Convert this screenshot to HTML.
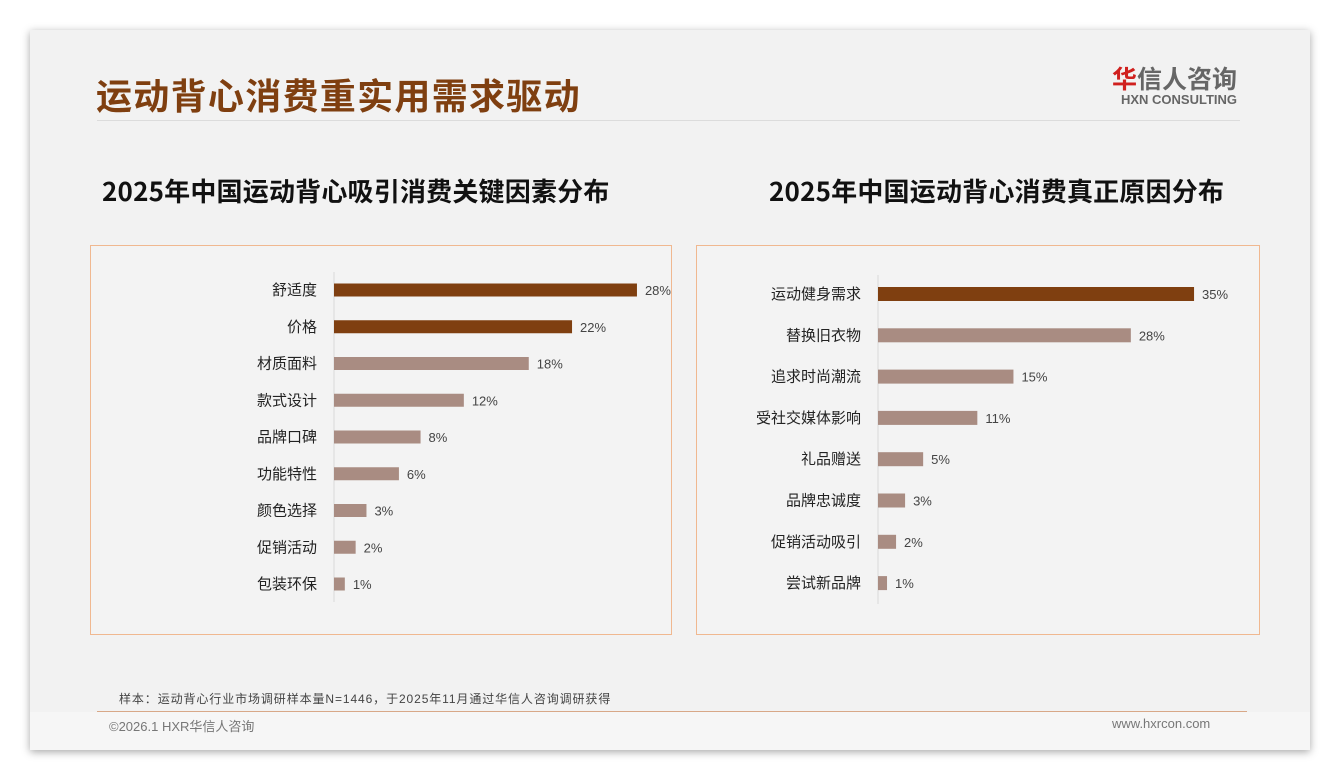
<!DOCTYPE html>
<html><head><meta charset="utf-8">
<style>
*{margin:0;padding:0;box-sizing:border-box}
body{width:1340px;height:780px;background:#fff;font-family:"Liberation Sans","Noto Sans CJK SC",sans-serif;position:relative;overflow:hidden}
.card{position:absolute;left:30px;top:30px;width:1280px;height:720px;background:#f2f2f2;box-shadow:0 2px 8px rgba(0,0,0,.35)}
.abs{position:absolute}
.panel{position:absolute;border:1px solid #f0b890;background:#f3f3f3}
</style></head><body>
<div class="card"></div>
<div class="abs" style="left:96px;top:68px;font-size:36px;font-weight:bold;color:#7f3f10;letter-spacing:1.3px;font-family:'Noto Sans CJK SC',sans-serif">运动背心消费重实用需求驱动</div>
<div class="abs" style="left:97px;top:120px;width:1143px;height:1px;background:#dcdcdc"></div>
<div class="abs" style="left:1112px;top:64px;text-align:right;font-family:'Noto Sans CJK SC',sans-serif">
<div style="font-size:25px;font-weight:bold;color:#666;line-height:28px"><span style="color:#d0201e">华</span>信人咨询</div>
<div style="font-size:13px;font-weight:bold;color:#666;font-family:'Liberation Sans',sans-serif;line-height:16px">HXN CONSULTING</div>
</div>
<div class="abs" style="left:102px;top:172px;font-size:26px;font-weight:bold;color:#111;letter-spacing:0.2px;font-family:'Noto Sans CJK SC',sans-serif">2025年中国运动背心吸引消费关键因素分布</div>
<div class="abs" style="left:769px;top:172px;font-size:26px;font-weight:bold;color:#111;letter-spacing:0.2px;font-family:'Noto Sans CJK SC',sans-serif">2025年中国运动背心消费真正原因分布</div>
<div class="panel" style="left:90px;top:245px;width:582px;height:390px"></div>
<div class="panel" style="left:696px;top:245px;width:564px;height:390px"></div>
<svg class="abs" style="left:0;top:0" width="1340" height="780" id="chart"></svg>
<div class="abs" style="left:119px;top:690px;font-size:12px;color:#444;letter-spacing:0.9px">样本：运动背心行业市场调研样本量N=1446，于2025年11月通过华信人咨询调研获得</div>
<div class="abs" style="left:30px;top:712px;width:1280px;height:38px;background:#f6f6f6"></div>
<div class="abs" style="left:97px;top:711px;width:1150px;height:1px;background:#d8a888"></div>
<div class="abs" style="left:109px;top:716px;font-size:13px;color:#777">©2026.1 HXR华信人咨询</div>
<div class="abs" style="left:1112px;top:716px;font-size:13px;color:#777">www.hxrcon.com</div>
<script>
const leftCats=["舒适度","价格","材质面料","款式设计","品牌口碑","功能特性","颜色选择","促销活动","包装环保"];
const leftVals=[28,22,18,12,8,6,3,2,1];
const leftHighlight=[1,1,0,0,0,0,0,0,0];
const rightCats=["运动健身需求","替换旧衣物","追求时尚潮流","受社交媒体影响","礼品赠送","品牌忠诚度","促销活动吸引","尝试新品牌"];
const rightVals=[35,28,15,11,5,3,2,1];
const rightHighlight=[1,0,0,0,0,0,0,0];
const svg=document.getElementById('chart');
const NS='http://www.w3.org/2000/svg';
function mk(t,a){const e=document.createElementNS(NS,t);for(const k in a)e.setAttribute(k,a[k]);svg.appendChild(e);return e;}
function draw(cats,vals,hl,ax,top,step,scale,bh,axTop,axBot,side){
  const xs=v=>ax+v*scale, ys=i=>top+i*step;
  const l=mk('line',{x1:ax,x2:ax,y1:axTop,y2:axBot,stroke:'#d9d9d9','stroke-width':1});
  
  
  cats.forEach((c,i)=>{
    const y=ys(i);
    const r=mk('rect',{x:ax,y:y-bh/2,width:xs(vals[i])-ax,height:bh,fill:hl[i]?'#7f3f10':'#a98c82'});
    
    
    const t=mk('text',{x:ax-17,y:y+5,'text-anchor':'end','font-size':15,fill:'#222','font-family':'Noto Sans CJK SC,sans-serif'});
    t.textContent=c;
    
    
    const v=mk('text',{x:xs(vals[i])+8,y:y+5,'font-size':13,fill:'#444','font-family':'Liberation Sans,sans-serif'});
    v.textContent=vals[i]+'%';
    
    
  });
}
draw(leftCats,leftVals,leftHighlight,334,290,36.75,10.82,13,272,602,'left');
draw(rightCats,rightVals,rightHighlight,878,294,41.3,9.03,14,275,604,'right');
</script>
</body></html>
